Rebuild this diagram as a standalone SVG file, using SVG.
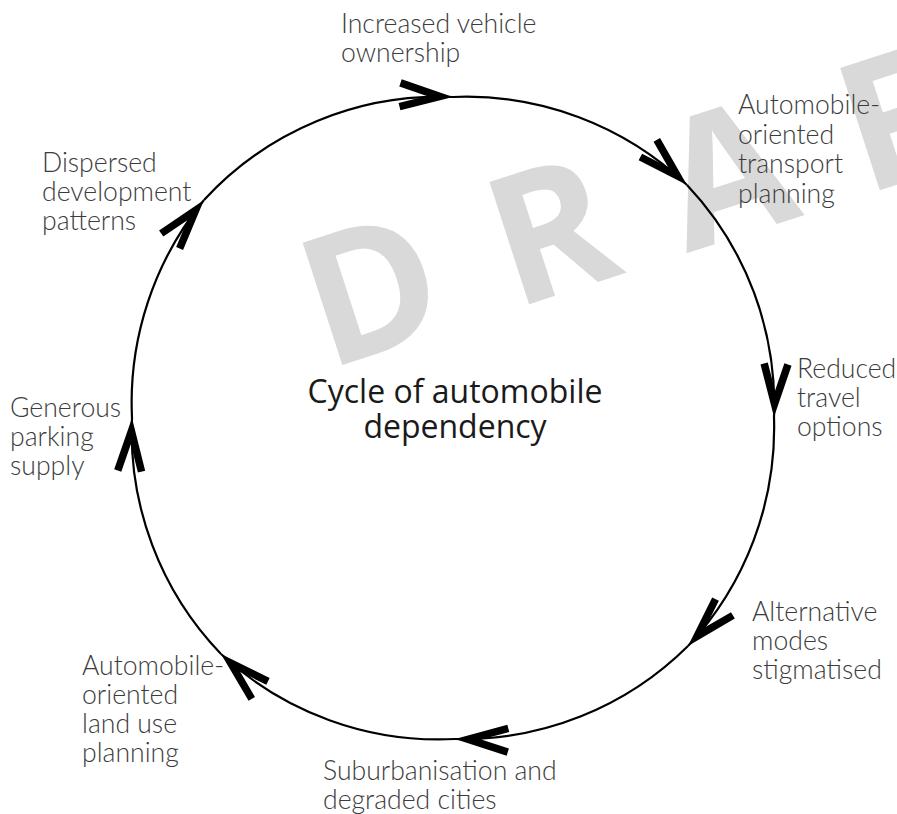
<svg xmlns="http://www.w3.org/2000/svg" width="897" height="814" viewBox="0 0 897 814">
<style>
.wm{font-family:"Open Sans","DejaVu Sans",sans-serif;font-weight:700;font-size:180px;fill:#d9d9d9;letter-spacing:63px}
.lbl{font-family:"Lato","Open Sans",sans-serif;font-weight:300;font-size:26.6px;fill:#3c3c3c}
.ttl{font-family:"Open Sans","Lato",sans-serif;font-size:32px;fill:#1a1a1a;text-anchor:middle}
.arc{fill:none;stroke:#000;stroke-width:2.2;marker-end:url(#chev)}
</style>
<defs>
<marker id="chev" markerUnits="userSpaceOnUse" orient="auto" refX="0" refY="0" markerWidth="1" markerHeight="1" overflow="visible">
<path d="M0,0 L-52,-15.5 L-54.1,-8.3 L-26.2,0 L-54.1,8.3 L-52,15.5 Z" fill="#000"/>
</marker>
</defs>
<rect width="897" height="814" fill="#fff"/>
<text class="wm" x="0" y="0" transform="translate(327,370) rotate(-18)">DRAFT</text>
<g id="connectors">
<path class="arc" d="M453,97 A320,320 0 0 1 687,185"/>
<path class="arc" d="M687,185 A320,320 0 0 1 774,417"/>
<path class="arc" d="M774,417 A320,320 0 0 1 688,646"/>
<path class="arc" d="M688,646 A320,320 0 0 1 455,739"/>
<path class="arc" d="M455,739 A320,320 0 0 1 221,654"/>
<path class="arc" d="M221,654 A320,320 0 0 1 132,418"/>
<path class="arc" d="M132,418 A320,320 0 0 1 204,200"/>
<path class="arc" d="M204,200 A320,320 0 0 1 453,97"/>
</g>
<g id="center">
<text class="ttl"><tspan x="455" y="403">Cycle of automobile</tspan><tspan x="455" y="438">dependency</tspan></text>
</g>
<g id="n-ownership">
<text class="lbl" x="341" y="33">Increased vehicle</text>
<text class="lbl" x="341" y="62">ownership</text>
</g>
<g id="n-transport">
<text class="lbl" x="738" y="114">Automobile-</text>
<text class="lbl" x="738" y="143.5">oriented</text>
<text class="lbl" x="738" y="173">transport</text>
<text class="lbl" x="738" y="202.5">planning</text>
</g>
<g id="n-options">
<text class="lbl" x="797" y="378">Reduced</text>
<text class="lbl" x="797" y="407">travel</text>
<text class="lbl" x="797" y="436">options</text>
</g>
<g id="n-modes">
<text class="lbl" x="752" y="621">Alternative</text>
<text class="lbl" x="752" y="650">modes</text>
<text class="lbl" x="752" y="679">stigmatised</text>
</g>
<g id="n-suburb">
<text class="lbl" x="323" y="780">Suburbanisation and</text>
<text class="lbl" x="323" y="809">degraded cities</text>
</g>
<g id="n-landuse">
<text class="lbl" x="82" y="675">Automobile-</text>
<text class="lbl" x="82" y="704">oriented</text>
<text class="lbl" x="82" y="733">land use</text>
<text class="lbl" x="82" y="762">planning</text>
</g>
<g id="n-parking">
<text class="lbl" x="10" y="417">Generous</text>
<text class="lbl" x="10" y="446">parking</text>
<text class="lbl" x="10" y="475">supply</text>
</g>
<g id="n-dispersed">
<text class="lbl" x="42" y="172">Dispersed</text>
<text class="lbl" x="42" y="201">development</text>
<text class="lbl" x="42" y="230">patterns</text>
</g>
</svg>
